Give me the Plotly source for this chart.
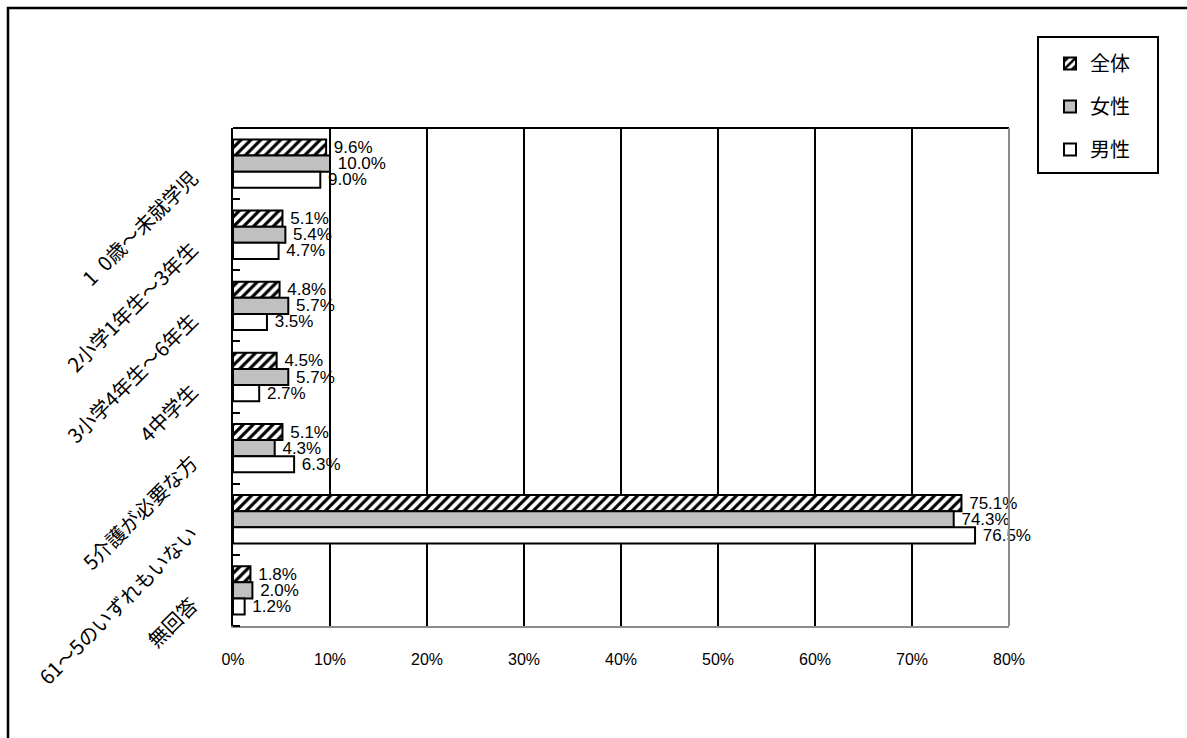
import plotly.graph_objects as go

# Survey categories (top to bottom) and percentage values per respondent group
categories = [
    "1\u20020歳～未就学児",
    "2小学1年生～3年生",
    "3小学4年生～6年生",
    "4中学生",
    "5介護が必要な方",
    "61～5のいずれもいない",
    "無回答",
]
total_pct = [9.6, 5.1, 4.8, 4.5, 5.1, 75.1, 1.8]
female_pct = [10.0, 5.4, 5.7, 5.7, 4.3, 74.3, 2.0]
male_pct = [9.0, 4.7, 3.5, 2.7, 6.3, 76.5, 1.2]
series_names = ["全体", "女性", "男性"]
x_tick_values = [0, 10, 20, 30, 40, 50, 60, 70, 80]
x_tick_labels = ["0%", "10%", "20%", "30%", "40%", "50%", "60%", "70%", "80%"]

# category slots on a numeric axis (0 = top row)
y_pos = list(range(len(categories)))
LABEL_DROP = 0.17  # rotated labels sit slightly below the slot centre

W, H = 1187, 738
PL, PR, PT, PB = 233, 1009, 128, 626  # plot area in pixels


def px_x(px):
    return (px - PL) / (PR - PL)


def px_y(py):
    return (PB - py) / (PB - PT)


JP_FONT = "Noto Sans CJK JP, sans-serif"
NUM_FONT = "Liberation Sans, Arial, sans-serif"

styles = [
    dict(color="white", pattern=dict(shape="/", fgcolor="black", bgcolor="white",
                                     size=7, solidity=0.45, fillmode="replace")),
    dict(color="#c0c0c0"),
    dict(color="white"),
]

fig = go.Figure()
for name, vals, st in zip(series_names, [total_pct, female_pct, male_pct], styles):
    fig.add_trace(go.Bar(
        name=name,
        legendgroup=name,
        y=y_pos,
        x=vals,
        orientation="h",
        marker=dict(line=dict(color="black", width=2), **st),
        texttemplate="\u00a0%{x:.1f}%",
        textposition="outside",
        textfont=dict(family=NUM_FONT, size=17, color="black"),
        constraintext="none",
        cliponaxis=False,
    ))

shapes = [
    # outer frame
    dict(type="rect", xref="paper", yref="paper",
         x0=px_x(8), x1=px_x(1300), y0=px_y(8), y1=px_y(800),
         line=dict(color="black", width=2.5), fillcolor="rgba(0,0,0,0)"),
    # top border of plot area
    dict(type="line", xref="paper", yref="paper",
         x0=0, x1=1, y0=1, y1=1, line=dict(color="black", width=2)),
    # right border of plot area
    dict(type="line", xref="paper", yref="paper",
         x0=1, x1=1, y0=0, y1=1, line=dict(color="#8c8c8c", width=2)),
    # legend box
    dict(type="rect", xref="paper", yref="paper",
         x0=px_x(1038), x1=px_x(1158), y0=px_y(37), y1=px_y(173),
         line=dict(color="black", width=2), fillcolor="white", layer="below"),
]

fig.update_layout(
    width=W, height=H,
    margin=dict(l=PL, r=W - PR, t=PT, b=H - PB),
    paper_bgcolor="white",
    plot_bgcolor="white",
    barmode="group",
    bargap=0.32,
    bargroupgap=0,
    showlegend=True,
    legend=dict(
        x=px_x(1050), y=px_y(44), xanchor="left", yanchor="top",
        bgcolor="rgba(0,0,0,0)", borderwidth=0,
        font=dict(family=JP_FONT, size=20, color="black"),
        tracegroupgap=14, traceorder="grouped",
    ),
    shapes=shapes,
    xaxis=dict(
        range=[0, 80],
        tickmode="array", tickvals=x_tick_values, ticktext=x_tick_labels,
        tickfont=dict(family=NUM_FONT, size=16, color="black"),
        showgrid=True, gridcolor="black", gridwidth=1.5,
        zeroline=False,
        showline=True, linecolor="#8c8c8c", linewidth=2,
        ticks="", ticklabelstandoff=18,
        fixedrange=True,
    ),
    yaxis=dict(
        range=[len(categories) - 0.5, -0.5],
        tickmode="array",
        tickvals=[p + LABEL_DROP for p in y_pos],
        ticktext=categories,
        tickangle=-45,
        tickfont=dict(family=JP_FONT, size=20, color="black"),
        showline=True, linecolor="black", linewidth=2,
        ticks="",
        minor=dict(tickmode="linear", tick0=-0.5, dtick=1, ticks="inside",
                   ticklen=7, tickcolor="black", tickwidth=1.5, showgrid=False),
        showgrid=False, zeroline=False,
        ticklabelstandoff=35,
        fixedrange=True,
    ),
)

fig.write_html("out.html")
